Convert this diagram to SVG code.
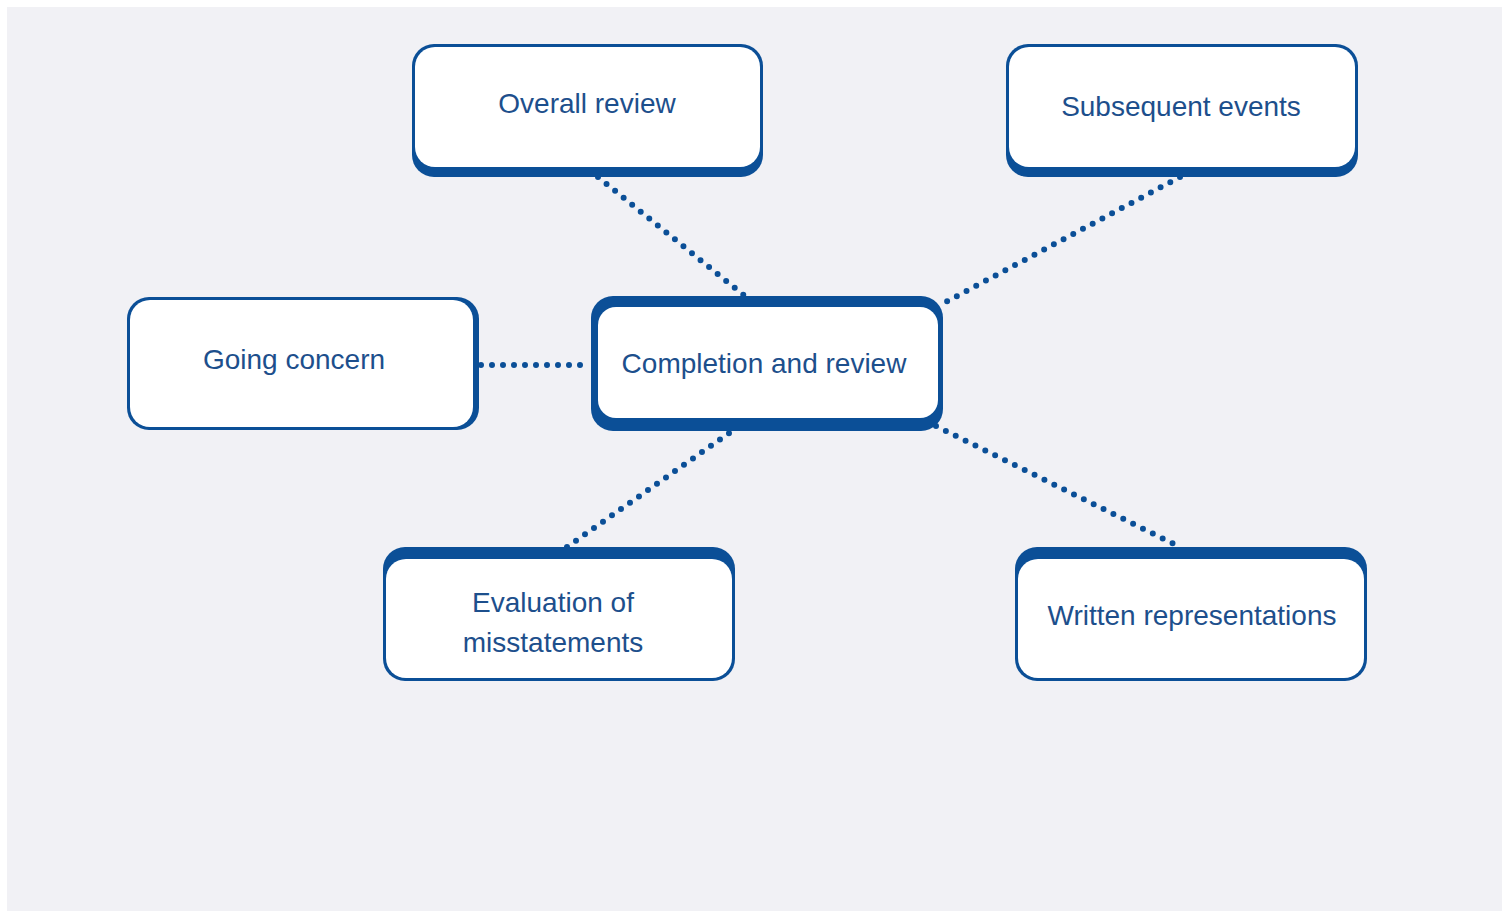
<svg xmlns="http://www.w3.org/2000/svg" width="1502" height="911" viewBox="0 0 1502 911">
<style>
.outer{fill:#0b4f97}
.inner{fill:#ffffff}
.lbl{font-family:"Liberation Sans",Arial,sans-serif;font-size:28px;fill:#1d4f8c;text-anchor:middle}
.conn{stroke:#0b4f97;stroke-width:6;stroke-linecap:round;stroke-dasharray:0 11;fill:none}
</style>
<rect x="0" y="0" width="1502" height="911" fill="#ffffff"/>
<rect x="7" y="7" width="1495" height="904" fill="#f1f1f5"/>
<g id="connectors">
<line class="conn" x1="598" y1="177" x2="746" y2="297"/>
<line class="conn" x1="1180" y1="177" x2="944" y2="303"/>
<line class="conn" x1="481" y1="365" x2="591" y2="365"/>
<line class="conn" x1="567" y1="547" x2="732" y2="431"/>
<line class="conn" x1="936" y1="426" x2="1180" y2="547"/>
</g>
<g id="overall-review">
<rect class="outer" x="412" y="44" width="351" height="133" rx="22"/>
<rect class="inner" x="415" y="47" width="345" height="120" rx="20"/>
<text class="lbl" x="587" y="113">Overall review</text>
</g>
<g id="subsequent-events">
<rect class="outer" x="1006" y="44" width="352" height="133" rx="22"/>
<rect class="inner" x="1009" y="47" width="346" height="120" rx="20"/>
<text class="lbl" x="1181" y="116">Subsequent events</text>
</g>
<g id="going-concern">
<rect class="outer" x="127" y="297" width="352" height="133" rx="22"/>
<rect class="inner" x="130" y="300" width="343" height="127" rx="20"/>
<text class="lbl" x="294" y="369">Going concern</text>
</g>
<g id="completion-and-review">
<rect class="outer" x="591" y="296" width="352" height="135" rx="22"/>
<rect class="inner" x="598" y="307" width="340" height="111" rx="18"/>
<text class="lbl" x="764" y="373">Completion and review</text>
</g>
<g id="evaluation-of-misstatements">
<rect class="outer" x="383" y="547" width="352" height="134" rx="22"/>
<rect class="inner" x="386" y="559" width="346" height="119" rx="20"/>
<text class="lbl" x="553" y="612">Evaluation of</text>
<text class="lbl" x="553" y="652">misstatements</text>
</g>
<g id="written-representations">
<rect class="outer" x="1015" y="547" width="352" height="134" rx="22"/>
<rect class="inner" x="1018" y="559" width="346" height="119" rx="20"/>
<text class="lbl" x="1192" y="625">Written representations</text>
</g>
</svg>
